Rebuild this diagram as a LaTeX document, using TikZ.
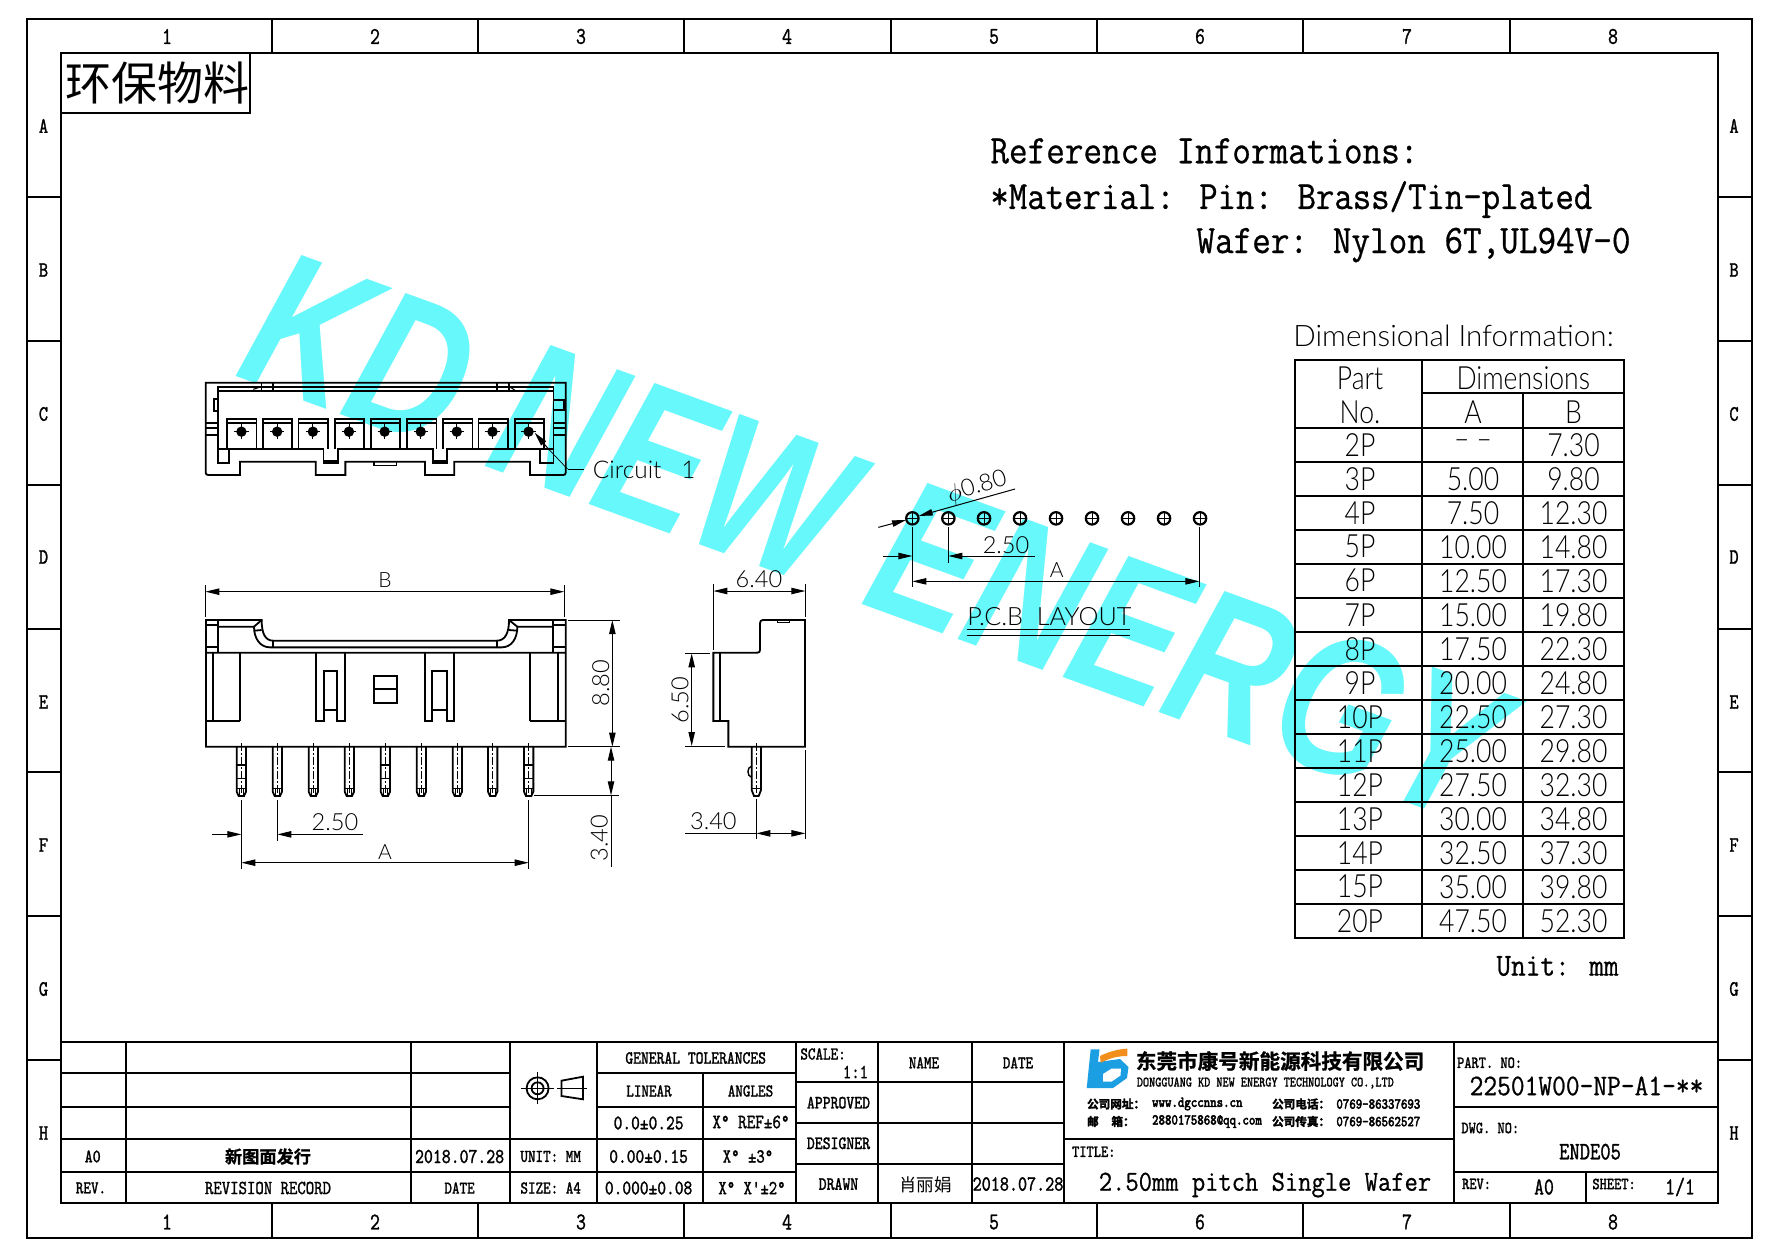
\documentclass[tikz,border=0pt]{standalone}
\usepackage{fontspec}
\usetikzlibrary{arrows.meta}
\newfontfamily\tbfont[FakeStretch=0.8,FakeBold=1.2]{Latin Modern Mono}
\newfontfamily\tcfont[FakeStretch=0.8,FakeBold=2.6]{Latin Modern Mono}
\newfontfamily\mnfont[FakeStretch=0.89,FakeBold=0.7]{Latin Modern Mono}
\newfontfamily\stickfont[FakeStretch=0.83]{Lato Light}
\newfontfamily\stickdim{Lato Light}
\newfontfamily\cjkfont{Noto Sans CJK SC}
\newfontfamily\cjkbold[FakeBold=1]{Noto Sans CJK SC Bold}
\newfontfamily\cjkheavy[FakeBold=2.5]{Noto Sans CJK SC Bold}
\newfontfamily\wmfont{Liberation Sans}
\definecolor{wmcyan}{HTML}{66F8FA}
\definecolor{logoblue}{HTML}{1C9FE2}
\definecolor{logoorange}{HTML}{F28E1C}
\tikzset{
  fr/.style={line width=1pt,black},
  part/.style={line width=0.9pt,black,line join=miter},
  thin line/.style={line width=0.5pt,black},
  cent/.style={line width=0.35pt,black,dash pattern=on 4pt off 1pt on 1pt off 1pt},
  dim/.style={line width=0.5pt,black,>={Triangle[length=7pt,width=3.2pt]}},
  tb/.style={inner sep=0pt,font=\tbfont\fontsize{#1}{#1}\selectfont},
  tb/.default=10.5,
  tc/.style={inner sep=0pt,font=\tcfont\fontsize{#1}{#1}\selectfont},
  ch/.style={inner sep=0pt,anchor=west,font=\cjkheavy\fontsize{5.8}{6}\selectfont},
  mn/.style={inner sep=0pt,font=\mnfont\fontsize{#1}{#1}\selectfont},
  sk/.style={inner sep=0pt,font=\stickfont\fontsize{#1}{#1}\selectfont},
  sk/.default=16,
  dt/.style={inner sep=0pt,font=\stickdim\fontsize{#1}{#1}\selectfont},
  dt/.default=11.8,
}
\begin{document}
\begin{tikzpicture}[x=0.5pt,y=-0.5pt]
\useasboundingbox (0,0) rectangle (1778,1257);
\fill[white] (0,0) rectangle (1778,1257);
% watermark
\begin{scope}[shift={(233,375)},rotate=-20,xscale=0.777,transform shape]
\node[anchor=base west,inner sep=0pt,text=wmcyan,font=\wmfont\bfseries\itshape\fontsize{99}{99}\selectfont] (wm) at (0,0) {KD NEW ENERGY};
\end{scope}
% frame
\draw[fr] (27,19) rectangle (1751.6,1238);
\draw[fr] (61,53) rectangle (1717.5,1203);
\foreach \x in {272,478,684,891,1097,1303,1510}{
  \draw[fr] (\x,19)--(\x,53);
  \draw[fr] (\x,1203)--(\x,1238);
}
\foreach \y in {197,341,485,629,772,916,1060}{
  \draw[fr] (27,\y)--(61,\y);
  \draw[fr] (1717.5,\y)--(1751.6,\y);
}
\foreach \x/\t in {167/1,375/2,581/3,787/4,994/5,1200/6,1407/7,1613/8}{
  \node[tb=12] at (\x,36.5) {\t};
  \node[tb=12] at (\x,1222) {\t};
}
\foreach \y/\t in {126/A,270/B,414/C,557/D,702/E,845/F,989/G,1133/H}{
  \node[tb=11] at (43.5,\y) {\t};
  \node[tb=11] at (1734,\y) {\t};
}
% stamp
\draw[fr] (61,53) rectangle (250,113);
\node[inner sep=0pt,font=\cjkfont\fontsize{23}{23}\selectfont] (stamp) at (157,83) {环保物料};
% info
\node[mn=20.3,anchor=west] at (990,151) {Reference Informations:};
\node[mn=20.1,anchor=west] at (990,199.5) {*Material: Pin: Brass/Tin-plated};
\node[mn=20.3,anchor=west] at (1196,245) {Wafer: Nylon 6T,UL94V-0};
\node[mn=16,anchor=west] at (1496,966) {Unit: mm};
\node[dt=14.8,anchor=west] at (1293,336) {Dimensional Information:};
% dimension table
\draw[fr] (1295,360) rectangle (1624,937.7);
\draw[fr] (1422.3,360)--(1422.3,937.7);
\draw[fr] (1523.3,393.3)--(1523.3,937.7);
\draw[fr] (1422.3,393.3)--(1624,393.3);
\foreach \i in {0,...,14}{
  \pgfmathsetmacro\yy{427.7+34*\i}
  \draw[fr] (1295,\yy)--(1624,\yy);
}
\node[sk] at (1360,378) {Part};
\node[sk] at (1360,412) {No.};
\node[sk] at (1523.3,378) {Dimensions};
\node[sk] at (1473,412) {A};
\node[sk] at (1573.5,412) {B};
\foreach \p/\a/\b [count=\i from 0] in {2P/{– –}/7.30,3P/5.00/9.80,4P/7.50/12.30,5P/10.00/14.80,6P/12.50/17.30,7P/15.00/19.80,8P/17.50/22.30,9P/20.00/24.80,10P/22.50/27.30,11P/25.00/29.80,12P/27.50/32.30,13P/30.00/34.80,14P/32.50/37.30,15P/35.00/39.80,20P/47.50/52.30}{
  \pgfmathsetmacro\yy{444.7+34*\i}
  \node[sk] at (1360,\yy) {\p};
  \node[sk] at (1473,\yy) {\a};
  \node[sk] at (1573.5,\yy) {\b};
}
% top view (zoom units)
\begin{scope}[x=0.17857pt,y=-0.16667pt,shift={(504,1080)}]
\draw[part] (72,68)--(72,330)..controls (72,345) .. (87,345)--(168,345)--(168,305)--(380,305)--(380,345)--(463,345)--(463,305)--(686,305)--(686,345)--(768,345)--(768,305)--(980,305)--(980,345)--(1065,345)..controls (1080,345) .. (1080,330)--(1080,68)--cycle;
\draw[part] (106,92)--(106,308)--(138,308)--(138,268)--(402,268)--(402,308)--(442,308)--(442,268)--(708,268)--(708,308)--(748,308)--(748,268)--(1008,268)--(1008,308)--(1046,308)--(1046,80)--(106,80)--(106,92)--(1046,92);
\draw[part] (106,268)--(138,268);
\draw[part] (1008,268)--(1046,268);
\draw[line width=1.6pt] (402,305)--(442,305);
\draw[line width=1.6pt] (708,305)--(748,305);
\draw[thin line,line width=.8pt] (543,305)--(543,316)--(606,316)--(606,305);
\foreach \x in {228,260,888,922} \draw[part] (\x,68)--(\x,92);
\draw[thin line] (205,88)--(228,80) (922,80)--(940,92);
\foreach \y in {188,205,225} { \draw[part] (72,\y)--(106,\y); \draw[part] (1046,\y)--(1080,\y); }
\draw[part] (106,118)--(96,118)--(96,152)--(106,152);
\draw[part] (1046,120)--(1075,120)--(1075,150)--(1046,150);
\foreach \x/\c in {132/172,232/272,332/372,434/473,535/573,636/674,737/775,836/875,937/976}{
  \draw[part] (\x,268)--(\x,178)--(\x+82,178)--(\x+82,268);
  \draw[part] (\x,190)--(\x+82,190);
  \fill (\c,215) circle (2.6pt);
  \draw[line width=.4pt] (\c-20,215)--(\c+20,215) (\c,193)--(\c,237);
}
\coordinate (lead) at (1030,265);
\coordinate (leadb) at (1085,327);
\coordinate (leade) at (1130,327);
\draw[dim,<-] (993,218)--(lead);
\draw[thin line,line width=.35pt] (lead)--(leadb);
\draw[thin line] (leadb)--(leade);
\node[dt=12.2,anchor=west] at (1155,329) {Circuit\ \ \ 1};
\end{scope}
% front view (zoom units)
\begin{scope}[x=0.16667pt,y=-0.16667pt,shift={(540,1710)}]
\draw[part] (78,248)--(78,150)--(245,150)..controls (245,190) and (255,212) .. (280,212)--(950,212)..controls (975,212) and (987,190) .. (987,150)--(1157,150)--(1157,530)--(78,530)--(78,248)--(1157,248);
\draw[part] (115,150)--(115,248) (1120,150)--(1120,248);
\draw[part] (78,165)--(115,165) (78,232)--(115,232) (1120,165)--(1157,165) (1120,232)--(1157,232);
\draw[part] (115,170)--(222,170)..controls (222,205) and (240,232) .. (270,232)--(965,232)..controls (995,232) and (1012,205) .. (1012,170)--(1120,170);
\draw[part] (222,170)--(245,150) (222,182)--(245,180) (1012,170)--(987,150) (1012,182)--(987,180);
\draw[part] (280,212)--(280,232) (950,212)--(950,232);
\draw[part] (98,248)--(98,452) (180,248)--(180,452) (78,452)--(180,452);
\draw[part] (1050,248)--(1050,452) (1135,248)--(1135,452) (1050,452)--(1157,452);
\draw[part] (408,248)--(408,452)--(433,452)--(433,302)--(472,302)--(472,452)--(495,452)--(495,248) (433,420)--(472,420);
\draw[part] (735,248)--(735,452)--(757,452)--(757,302)--(802,302)--(802,452)--(823,452)--(823,248) (757,420)--(802,420);
\draw[part] (582,318) rectangle (650,398);
\draw[part] (582,356)--(650,356);
\foreach \c in {184,292,400,508,616,724,832,938,1046}{
  \draw[part] (\c-14,530)--(\c-14,665)--(\c-8,678)--(\c+8,678)--(\c+14,665)--(\c+14,530);
  \draw[part,line width=.7pt] (\c-14,655)--(\c+14,655);
  \draw[line width=.4pt] (\c-7,655)--(\c-7,678) (\c+7,655)--(\c+7,678);
  \draw[cent] (\c,520)--(\c,682);
}
\foreach \c in {184,616,1046}{
  \draw[part,line width=.7pt] (\c-14,585)--(\c+14,585) (\c-14,625)--(\c+14,625);
}
% dims
\draw[dim] (76,45)--(76,140) (1153,45)--(1153,140);
\draw[dim,<->] (76,65)--(1153,65);
\node[dt=10.5] at (615,30) {B};
\draw[dim] (1165,150)--(1320,150) (1165,530)--(1320,530) (1062,676)--(1318,676);
\draw[dim,<->] (1297,150)--(1297,530);
\draw[dim,<->] (1293,530)--(1293,676);
\draw[dim] (1293,676)--(1293,890);
\node[dt,rotate=90] at (1262,340) {8.80};
\node[dt,rotate=90] at (1258,805) {3.40};
\draw[dim] (184,690)--(184,800) (292,690)--(292,812);
\draw[dim,->] (97,793)--(184,793);
\draw[dim,<-] (292,793)--(549,793);
\node[dt] at (465,755) {2.50};
\draw[dim] (184,800)--(184,897) (1046,690)--(1046,897);
\draw[dim,<->] (184,878)--(1046,878);
\node[dt=10.5] at (615,845) {A};
\end{scope}
% side view
\begin{scope}[x=0.16667pt,y=-0.16667pt,shift={(1980,1680)}]
\draw[part] (160,278)--(160,483)--(205,483)--(205,560)--(435,560)--(435,180)--(318,180)..controls (300,180) .. (300,200)--(300,260)..controls (300,278) .. (285,278)--cycle;
\draw[part] (180,278)--(180,483);
\draw[part,line width=.6pt] (352,180)--(352,188)--(388,188)--(388,180);
\draw[part] (275,560)--(275,690)--(282,708)--(296,708)--(303,690)--(303,560);
\draw[part,line width=.7pt] (275,685)--(303,685);
\draw[cent] (289,550)--(289,720);
\draw[part,line width=.7pt] (275,618)..controls (260,622) and (260,648) .. (275,652);
\draw[dim] (160,73)--(160,270) (436,73)--(436,170);
\draw[dim,<->] (160,93)--(436,93);
\node[dt] at (297,57) {6.40};
\draw[dim] (75,280)--(150,280) (75,558)--(195,558);
\draw[dim,<->] (95,280)--(95,558);
\node[dt,rotate=90] at (60,420) {6.50};
\draw[dim] (289,718)--(289,838) (436,570)--(436,838);
\draw[dim] (75,820)--(289,820);
\draw[dim,<->] (289,820)--(436,820);
\node[dt] at (160,783) {3.40};
\end{scope}
% PCB layout
\begin{scope}[x=0.16667pt,y=-0.16667pt,shift={(2610,1380)}]
\foreach \c in {127,235,342,450,558,666,774,882,990}{
  \draw[line width=1.1pt] (\c,175) circle (3.1pt);
  \draw[line width=.4pt] (\c-18,175)--(\c+18,175) (\c,157)--(\c,193);
}
\draw[dim,->] (25,202)--(108,180);
\draw[dim,<-] (146,168)--(435,87);
\node[dt,rotate=17] at (322,82) {$\phi$0.80};
\draw[dim] (127,200)--(127,382) (235,200)--(235,308) (988,200)--(988,382);
\draw[dim,->] (40,288)--(127,288);
\draw[dim,<-] (235,288)--(495,288);
\node[dt] at (408,255) {2.50};
\draw[dim,<->] (127,364)--(988,364);
\node[dt=10.5] at (560,330) {A};
\node[dt=12.6] at (538,470) {P.C.B\ \ LAYOUT};
\draw[dim] (290,508)--(780,508) (290,525)--(780,525);
\end{scope}
% title block
\draw[fr] (61,1042)--(1717.5,1042);
\foreach \y in {1073.3,1106.7} \draw[fr] (61,\y)--(509.5,\y);
\draw[fr] (61,1139)--(796,1139);
\draw[fr] (61,1171.7)--(796,1171.7);
\draw[fr] (596.8,1073.3)--(796,1073.3) (596.8,1106.7)--(796,1106.7);
\draw[fr] (126,1042)--(126,1203) (411,1042)--(411,1203) (509.5,1042)--(509.5,1203) (596.8,1042)--(596.8,1203) (703.4,1073.3)--(703.4,1203) (796,1042)--(796,1203) (878,1042)--(878,1203) (971.5,1042)--(971.5,1203) (1064,1042)--(1064,1203) (1453.5,1042)--(1453.5,1203);
\foreach \y in {1082.3,1122.7,1164} \draw[fr] (796,\y)--(1064,\y);
\draw[fr] (1064,1138.7)--(1453.5,1138.7);
\draw[fr] (1453.5,1106.7)--(1717.5,1106.7) (1453.5,1171.7)--(1717.5,1171.7);
\draw[fr] (1585.8,1171.7)--(1585.8,1203);
% left texts
\node[tb=9.5] at (92.7,1156.5) {A0};
\node[inner sep=0pt,font=\cjkbold\fontsize{8.6}{9}\selectfont] at (268,1156.5) {新图面发行};
\node[tb=10.6] at (459.6,1156.5) {2018.07.28};
\node[tb=9] at (550.7,1156.5) {UNIT: MM};
\node[tb=10.4] at (648.6,1156.5) {0.00±0.15};
\node[tb=10] at (748,1156.5) {X° ±3°};
\node[tb=9] at (91,1188) {REV.};
\node[tb=10] at (268,1188) {REVISION RECORD};
\node[tb=9] at (459.6,1188) {DATE};
\node[tb=9] at (550.7,1188) {SIZE: A4};
\node[tb=10.4] at (648.6,1188) {0.000±0.08};
\node[tb=10] at (752,1188) {X° X'±2°};
\node[tb=9.3] at (695.7,1058) {GENERAL TOLERANCES};
\node[tb=9] at (649,1091) {LINEAR};
\node[tb=9] at (750.5,1091) {ANGLES};
\node[tb=10.4] at (648.6,1123) {0.0±0.25};
\node[tb=10.2] at (751,1122) {X° REF±6°};
\draw[line width=.9pt] (537.6,1088.3) circle (5.5pt) circle (3pt);
\draw[line width=.5pt] (537.6,1072)--(537.6,1104) (521,1088.3)--(554,1088.3);
\draw[line width=.9pt] (561.4,1080.7)--(583,1076.7)--(583,1099.3)--(561.4,1096)--cycle;
\draw[line width=.5pt] (557,1088.3)--(587,1088.3);
\node[tb=9,anchor=west] at (800,1054) {SCALE:};
\node[tb=10] at (855.5,1072) {1:1};
\node[tb=9] at (924,1062.7) {NAME};
\node[tb=9] at (1018,1062.7) {DATE};
\node[tb=9.4] at (838.5,1102.7) {APPROVED};
\node[tb=9.4] at (838.5,1143.3) {DESIGNER};
\node[tb=9.4] at (838.5,1184) {DRAWN};
\node[inner sep=0pt,font=\cjkfont\fontsize{8.8}{9}\selectfont] at (925.5,1184.6) {肖丽娟};
\node[tb=10.8] at (1018,1184) {2018.07.28};
% logo
\fill[logoblue] (1090.7,1049.3)--(1099.5,1049.3)--(1098,1062)--(1120,1059)--(1128.5,1067)--(1127,1078)--(1113,1088)--(1086.7,1088)--cycle;
\fill[white] (1103,1074)--(1111.7,1068.5)--(1121,1068.5)--(1120.5,1075.5)--(1111.7,1081.5)--(1103,1081.5)--cycle;
\fill[logoorange] (1100,1056)..controls (1108,1052) and (1118,1049) .. (1127.3,1048.7)--(1127.3,1056)..controls (1118,1056) and (1110,1058) .. (1100.7,1062.7)--cycle;
\node[inner sep=0pt,anchor=west,font=\cjkbold\fontsize{10.3}{11}\selectfont] at (1135.5,1061) {东莞市康号新能源科技有限公司};
\node[tb=7.2,anchor=west] at (1136.5,1083) {DONGGUANG KD NEW ENERGY TECHNOLOGY CO.,LTD};
\node[ch] at (1086.7,1104) {公司网址：};
\node[tc=7.6,anchor=west] at (1151.7,1104) {www.dgccnns.cn};
\node[ch] at (1086.7,1121.5) {邮\hspace{1.1em}箱：};
\node[tc=7.6,anchor=west] at (1151.7,1121.5) {2880175868@qq.com};
\node[ch] at (1271.7,1104) {公司电话：};
\node[tc=7.6,anchor=west] at (1336,1104) {0769-86337693};
\node[ch] at (1271.7,1121.5) {公司传真：};
\node[tc=7.6,anchor=west] at (1336,1121.5) {0769-86562527};
% title
\node[tb=8.5,anchor=west] at (1071.7,1151.7) {TITLE:};
\node[mn=14.5] at (1265,1185) {2.50mm pitch Single Wafer};
\node[tb=8.5,anchor=west] at (1456.7,1062.7) {PART. NO:};
\node[mn=15] at (1586.5,1086) {22501W00-NP-A1-**};
\node[tb=8.5,anchor=west] at (1461,1128) {DWG. NO:};
\node[tb=12.5] at (1590,1151.7) {ENDE05};
\node[tb=8.5,anchor=west] at (1461.7,1184) {REV:};
\node[tb=12] at (1544,1187) {A0};
\node[tb=8.5,anchor=west] at (1592,1184) {SHEET:};
\node[tb=12] at (1680,1187) {1/1};
\end{tikzpicture}
\end{document}
